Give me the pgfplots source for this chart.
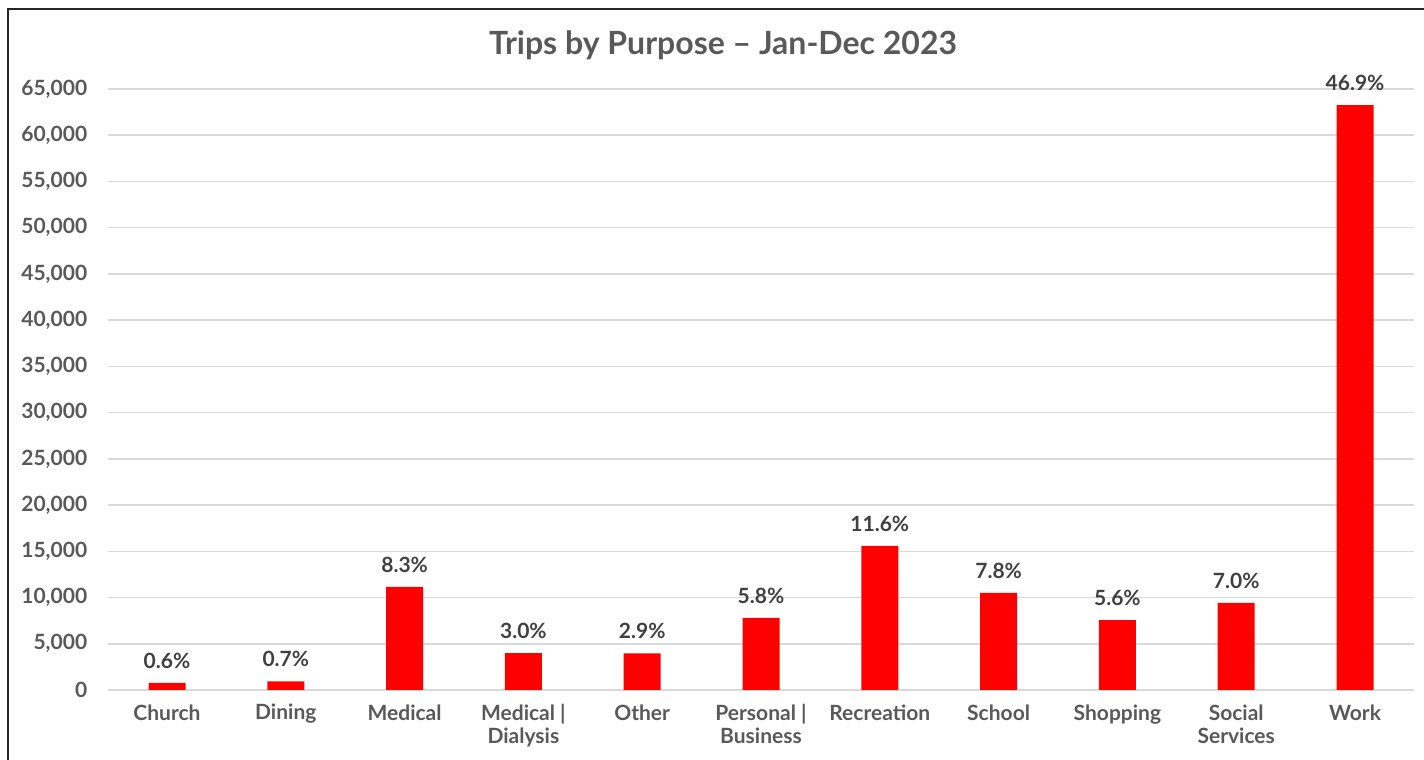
\documentclass[border=0pt]{standalone}
\usepackage{fontspec}
\setmainfont{Lato}
\usepackage{pgfplots}
\pgfplotsset{compat=1.18}
\definecolor{txt}{HTML}{595959}
\definecolor{lbl}{HTML}{404040}
\definecolor{gridc}{HTML}{D9D9D9}
\definecolor{barred}{HTML}{FF0000}
\begin{document}
\begin{tikzpicture}[x=1pt,y=1pt]
\useasboundingbox (0,0) rectangle (712,380);
\draw[line width=1pt, black!85] (4,-2) -- (4,375.5) -- (714,375.5);
\node[font=\bfseries\fontsize{16}{19}\selectfont, text=txt] at (361.5,357.5) {Trips by Purpose – Jan-Dec 2023};
\begin{axis}[
  at={(53.8pt,35pt)}, anchor=south west, scale only axis,
  width=653.4pt, height=300.5pt,
  ymin=0, ymax=65000, ytick={0,5000,...,65000},
  scaled y ticks=false,
  yticklabel={\pgfmathprintnumber[fixed, precision=0, 1000 sep={,}, assume math mode=true]{\tick}},
  xmin=-0.5, xmax=10.5, xtick={0,...,10},
  xticklabels={Church,Dining,Medical,{Medical |\\Dialysis},Other,{Personal |\\Business},Recreation,School,Shopping,{Social\\Services},Work},
  axis x line*=bottom, axis y line*=left,
  x axis line style={gridc, line width=0.75pt, -},
  y axis line style={draw=none},
  ymajorgrids, grid style={gridc, line width=0.75pt},
  major tick length=0pt,
  yticklabel style={font=\bfseries\fontsize{10.5}{12}\selectfont, text=txt, inner sep=0pt, anchor=east, xshift=-10pt},
  xticklabel style={font=\bfseries\fontsize{10.5}{11.5}\selectfont, text=txt, inner sep=0pt, anchor=north, align=center, yshift=-7pt},
  clip=false,
  ybar, bar width=18.5pt,
  nodes near coords={\pgfplotspointmeta},
  point meta=explicit symbolic,
  every node near coord/.append style={font=\bfseries\fontsize{10.5}{12}\selectfont, text=lbl, anchor=south, inner sep=0pt, yshift=7pt},
]
\addplot[fill=barred, draw=none, bar shift=0pt] table[x=x, y=y, meta=lab] {
x y lab
0 760 0.6\%
1 920 0.7\%
2 11140 8.3\%
3 4000 3.0\%
4 3950 2.9\%
5 7800 5.8\%
6 15600 11.6\%
7 10500 7.8\%
8 7570 5.6\%
9 9420 7.0\%
10 63250 46.9\%
};
\end{axis}
\end{tikzpicture}
\end{document}
